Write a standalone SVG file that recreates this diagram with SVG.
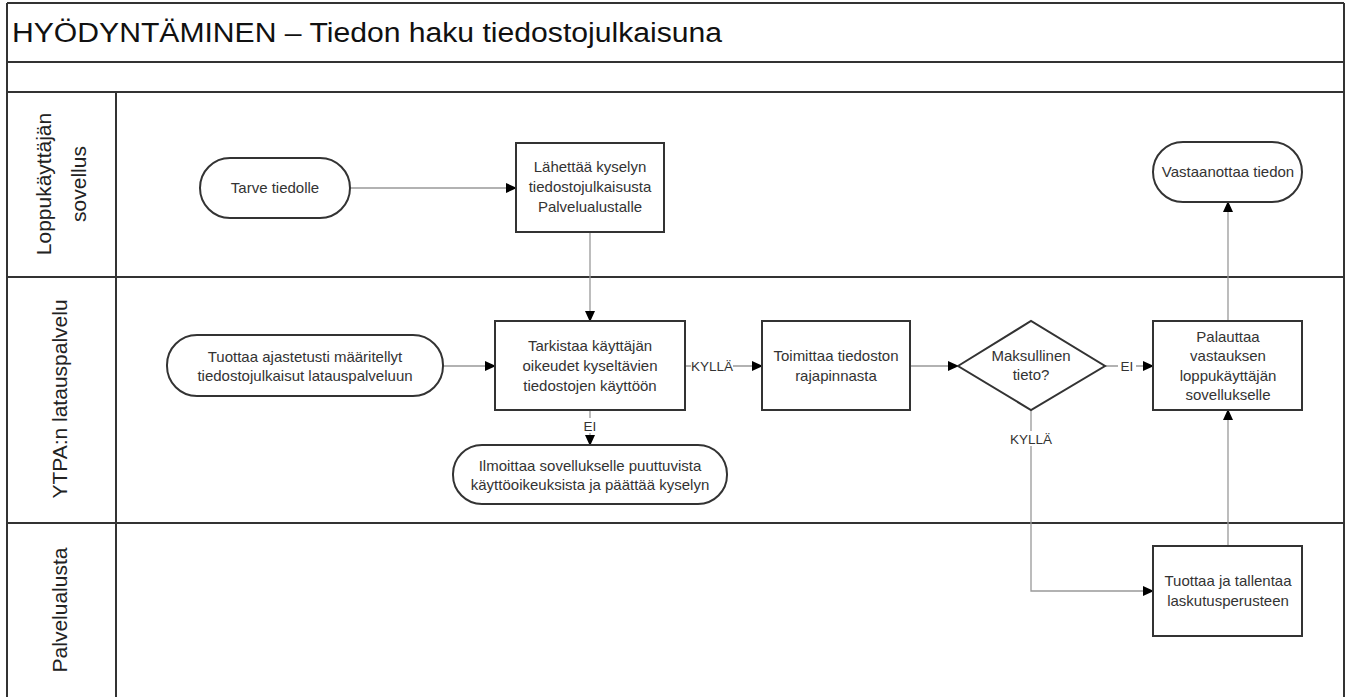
<svg xmlns="http://www.w3.org/2000/svg" width="1346" height="697" viewBox="0 0 1346 697">
<style>
.frame{fill:none;stroke:#333;stroke-width:2}
.node{fill:#fff;stroke:#333;stroke-width:2}
.conn{fill:none;stroke:#999;stroke-width:1.3}
.t{font-family:"Liberation Sans",Arial,sans-serif;font-size:15px;fill:#333;text-anchor:middle}
.lane{font-family:"Liberation Sans",Arial,sans-serif;font-size:21px;fill:#222;text-anchor:middle}
.title{font-family:"Liberation Sans",Arial,sans-serif;font-size:27px;fill:#111}
.lbl{font-family:"Liberation Sans",Arial,sans-serif;font-size:13.5px;fill:#333;text-anchor:middle}
</style>
<defs>
<marker id="arr" markerWidth="11" markerHeight="10" refX="10" refY="5" orient="auto" markerUnits="userSpaceOnUse">
<path d="M0,0 L11,5 L0,10 Z" fill="#000"/>
</marker>
</defs>
<rect width="1346" height="697" fill="#fff"/>
<g id="frame">
<line class="frame" x1="7" y1="3" x2="1344" y2="3"/>
<line class="frame" x1="7" y1="3" x2="7" y2="697"/>
<line class="frame" x1="1344" y1="3" x2="1344" y2="697"/>
<line class="frame" x1="7" y1="62" x2="1344" y2="62"/>
<line class="frame" x1="7" y1="92" x2="1344" y2="92"/>
<line class="frame" x1="7" y1="277" x2="1344" y2="277"/>
<line class="frame" x1="7" y1="523" x2="1344" y2="523"/>
<line class="frame" x1="116" y1="92" x2="116" y2="697"/>
<text class="title" x="12" y="42" textLength="710" lengthAdjust="spacingAndGlyphs">HYÖDYNTÄMINEN – Tiedon haku tiedostojulkaisuna</text>
<text class="lane" transform="translate(51,184) rotate(-90)">Loppukäyttäjän</text>
<text class="lane" transform="translate(86,184) rotate(-90)">sovellus</text>
<text class="lane" transform="translate(67,399) rotate(-90)">YTPA:n latauspalvelu</text>
<text class="lane" transform="translate(67,610) rotate(-90)">Palvelualusta</text>
</g>
<g id="connectors">
<line class="conn" x1="350" y1="188" x2="516" y2="188" marker-end="url(#arr)"/>
<line class="conn" x1="590" y1="232" x2="590" y2="321" marker-end="url(#arr)"/>
<line class="conn" x1="443" y1="366" x2="495" y2="366" marker-end="url(#arr)"/>
<line class="conn" x1="590" y1="410" x2="590" y2="445" marker-end="url(#arr)"/>
<line class="conn" x1="685" y1="366" x2="762" y2="366" marker-end="url(#arr)"/>
<line class="conn" x1="910" y1="366" x2="958" y2="366" marker-end="url(#arr)"/>
<line class="conn" x1="1105" y1="366" x2="1153" y2="366" marker-end="url(#arr)"/>
<polyline class="conn" points="1031,410 1031,591 1153,591" marker-end="url(#arr)"/>
<line class="conn" x1="1228" y1="546" x2="1228" y2="410" marker-end="url(#arr)"/>
<line class="conn" x1="1228" y1="321" x2="1228" y2="202" marker-end="url(#arr)"/>
<rect x="583" y="418" width="14" height="15" fill="#fff"/>
<text class="lbl" x="590" y="431">EI</text>
<rect x="691" y="358" width="42" height="15" fill="#fff"/>
<text class="lbl" x="712" y="371">KYLLÄ</text>
<rect x="1118" y="358" width="18" height="15" fill="#fff"/>
<text class="lbl" x="1127" y="371">EI</text>
<rect x="1010" y="431" width="42" height="15" fill="#fff"/>
<text class="lbl" x="1031" y="444">KYLLÄ</text>
</g>
<g id="n-tarve">
<rect class="node" x="200" y="158" width="150" height="60" rx="30"/>
<text class="t" x="275" y="193">Tarve tiedolle</text>
</g>
<g id="n-lahettaa">
<rect class="node" x="516" y="143" width="148" height="89"/>
<text class="t" x="590" y="172">Lähettää kyselyn</text>
<text class="t" x="590" y="192">tiedostojulkaisusta</text>
<text class="t" x="590" y="212">Palvelualustalle</text>
</g>
<g id="n-vastaanottaa">
<rect class="node" x="1153" y="142" width="149" height="60" rx="30"/>
<text class="t" x="1228" y="177">Vastaanottaa tiedon</text>
</g>
<g id="n-tuottaa-ajast">
<rect class="node" x="167" y="335" width="276" height="61" rx="30"/>
<text class="t" x="305" y="362">Tuottaa ajastetusti määritellyt</text>
<text class="t" x="305" y="381">tiedostojulkaisut latauspalveluun</text>
</g>
<g id="n-tarkistaa">
<rect class="node" x="495" y="321" width="190" height="89"/>
<text class="t" x="590" y="351">Tarkistaa käyttäjän</text>
<text class="t" x="590" y="371">oikeudet kyseltävien</text>
<text class="t" x="590" y="391">tiedostojen käyttöön</text>
</g>
<g id="n-ilmoittaa">
<rect class="node" x="453" y="445" width="274" height="59" rx="29"/>
<text class="t" x="590" y="471">Ilmoittaa sovellukselle puuttuvista</text>
<text class="t" x="590" y="490">käyttöoikeuksista ja päättää kyselyn</text>
</g>
<g id="n-toimittaa">
<rect class="node" x="762" y="321" width="148" height="89"/>
<text class="t" x="836" y="361">Toimittaa tiedoston</text>
<text class="t" x="836" y="381">rajapinnasta</text>
</g>
<g id="n-maksullinen">
<polygon class="node" points="958,366 1031,321 1105,366 1031,410"/>
<text class="t" x="1031" y="361">Maksullinen</text>
<text class="t" x="1031" y="380">tieto?</text>
</g>
<g id="n-palauttaa">
<rect class="node" x="1153" y="321" width="149" height="89"/>
<text class="t" x="1228" y="342">Palauttaa</text>
<text class="t" x="1228" y="361">vastauksen</text>
<text class="t" x="1228" y="381">loppukäyttäjän</text>
<text class="t" x="1228" y="400">sovellukselle</text>
</g>
<g id="n-tallentaa">
<rect class="node" x="1153" y="546" width="149" height="90"/>
<text class="t" x="1228" y="586">Tuottaa ja tallentaa</text>
<text class="t" x="1228" y="606">laskutusperusteen</text>
</g>
</svg>
